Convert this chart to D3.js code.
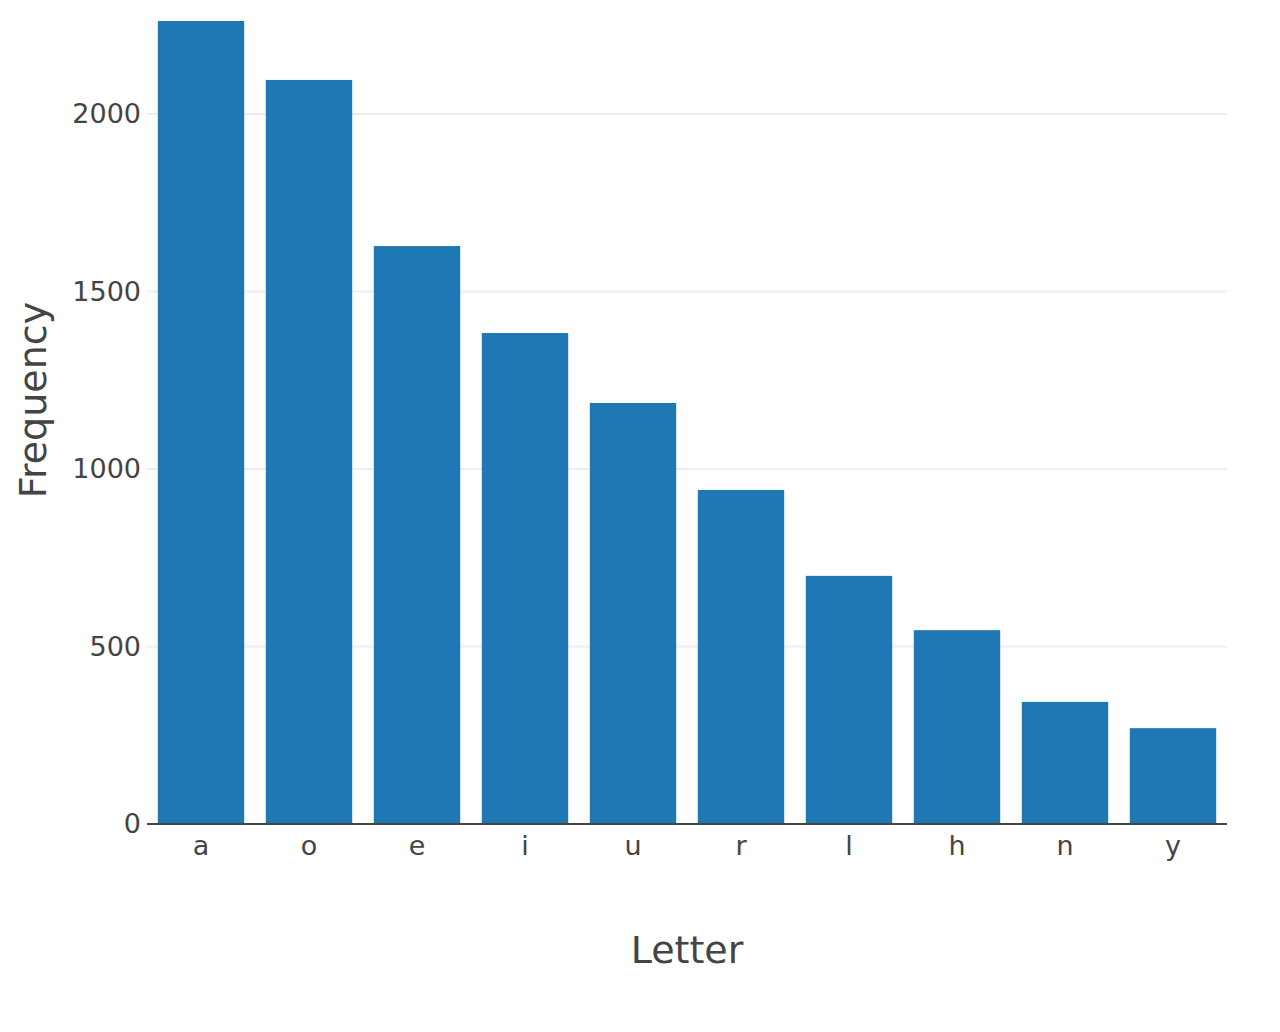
<!DOCTYPE html>
<html>
<head>
<meta charset="utf-8">
<script src="https://d3js.org/d3.v7.min.js"></script>
<style>
  html, body { margin: 0; padding: 0; background: #fff; }
  svg { display: block; }
</style>
</head>
<body>
<svg id="chart" width="1280" height="1032"></svg>
<script>
const letters = ["a", "o", "e", "i", "u", "r", "l", "h", "n", "y"];
const frequencies = [2262, 2096, 1628, 1383, 1186, 941, 699, 546, 344, 270];
const yTicks = [0, 500, 1000, 1500, 2000];
const xTitle = "Letter";
const yTitle = "Frequency";

(function () {
const svg = d3.select("#chart");
const plotLeft = 147, plotRight = 1227, plotTop = 21, plotBottom = 824;
const font = "'DejaVu Sans', Verdana, sans-serif";
const textColor = "#444";

const x = d3.scaleBand().domain(letters).range([plotLeft, plotRight]).paddingInner(0.2).paddingOuter(0.1);
const y = d3.scaleLinear().domain([0, 2262]).range([plotBottom, plotTop]);

// gridlines
svg.append("g").selectAll("line").data(yTicks.filter(d => d > 0)).join("line")
  .attr("x1", plotLeft).attr("x2", plotRight)
  .attr("y1", d => y(d)).attr("y2", d => y(d))
  .attr("stroke", "#eeeeee").attr("stroke-width", 2);

// bars
svg.append("g").selectAll("rect").data(letters).join("rect")
  .attr("x", d => x(d))
  .attr("width", x.bandwidth())
  .attr("y", (d, i) => y(frequencies[i]))
  .attr("height", (d, i) => y(0) - y(frequencies[i]))
  .attr("fill", "#1f77b4");

// x axis
const xAxis = svg.append("g").attr("transform", `translate(0,${plotBottom})`)
  .call(d3.axisBottom(x).tickSize(0).tickPadding(12));
xAxis.select(".domain").attr("stroke", "#444").attr("stroke-width", 2)
  .attr("d", `M${plotLeft},0H${plotRight}`);
xAxis.selectAll("text").attr("font-family", font).attr("font-size", 27).attr("fill", textColor);

// y axis labels
const yAxis = svg.append("g").attr("transform", `translate(${plotLeft},0)`)
  .call(d3.axisLeft(y).tickValues(yTicks).tickSize(0).tickPadding(6).tickFormat(d3.format("d")));
yAxis.select(".domain").remove();
yAxis.selectAll("text").attr("font-family", font).attr("font-size", 27).attr("fill", textColor);

// titles
svg.append("text").attr("x", (plotLeft + plotRight) / 2).attr("y", 963)
  .attr("text-anchor", "middle").attr("font-family", font).attr("font-size", 38)
  .attr("fill", textColor).text(xTitle);
svg.append("text").attr("transform", `translate(46,400) rotate(-90)`)
  .attr("text-anchor", "middle").attr("font-family", font).attr("font-size", 38)
  .attr("fill", textColor).text(yTitle);
})();
</script>
</body>
</html>
